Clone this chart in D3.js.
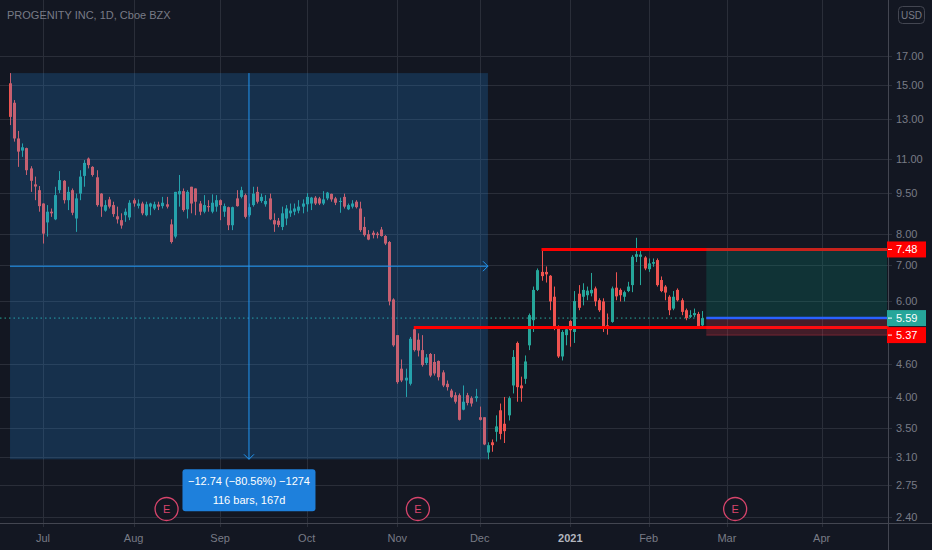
<!DOCTYPE html>
<html>
<head>
<meta charset="utf-8">
<script src="https://cdn.jsdelivr.net/npm/d3@7"></script>
<style>
  html, body { margin: 0; padding: 0; background: #131722; }
  svg { display: block; font-family: "Liberation Sans", Arial, sans-serif; }
</style>
</head>
<body>
<svg id="chart" width="932" height="550"></svg>
<script>
// ---- data ----
const title = "PROGENITY INC, 1D, Cboe BZX";
const firstDay = "2020-06-19";
const holidays = ["2020-07-03", "2020-09-07", "2020-11-26", "2020-12-25",
                  "2021-01-01", "2021-01-18", "2021-02-15", "2021-04-02"];

const opens = [15.14,13.94,11.98,11.38,11.50,10.55,9.86,9.62,9.09,8.39,
  8.78,8.50,9.62,10.01,9.22,9.62,8.53,9.48,10.22,11.00,
  10.62,10.16,9.48,8.82,9.25,9.03,8.61,8.47,8.65,8.57,
  9.22,9.00,9.09,8.65,8.97,8.90,9.05,8.99,9.06,8.32,
  7.90,9.45,9.58,8.87,9.76,9.69,9.09,8.78,8.99,8.78,
  8.97,9.22,8.78,8.95,8.29,9.29,9.35,9.42,8.65,9.03,
  9.55,9.19,9.06,9.29,8.47,8.45,8.23,8.53,8.72,8.78,
  8.82,8.97,9.06,9.09,9.32,9.29,9.09,9.29,9.47,9.29,
  9.16,9.35,8.87,8.97,9.16,8.90,8.23,7.98,8.03,8.00,
  8.14,7.92,7.72,6.05,5.20,4.51,4.29,4.23,5.33,5.10,
  4.88,4.62,4.80,4.64,4.66,4.44,4.23,4.11,4.03,4.03,
  3.79,4.03,3.98,3.98,3.67,3.67,3.16,3.30,3.45,3.78,
  3.57,3.70,4.20,5.03,4.20,4.32,4.98,5.54,6.30,6.80,
  6.80,6.69,6.12,5.34,4.75,5.20,5.52,5.27,6.20,6.12,
  6.16,6.21,6.34,6.03,6.00,5.42,5.50,6.36,6.30,6.12,
  6.27,6.43,7.25,7.25,7.23,6.88,7.04,7.15,6.57,6.39,
  6.12,5.82,6.30,6.03,5.78,5.62,5.66,5.69,5.42];

const highs = [15.81,14.10,12.37,11.73,11.52,10.65,10.19,9.79,9.10,9.03,
  8.90,9.76,10.43,10.04,9.76,9.69,9.48,10.47,10.93,11.05,
  10.65,10.47,9.50,9.22,9.35,9.16,8.97,8.72,8.90,9.22,
  9.29,9.25,9.16,9.16,9.12,9.16,9.16,9.35,9.35,8.50,
  9.55,10.26,9.69,9.62,9.76,9.69,9.19,9.42,9.22,9.45,
  9.42,9.25,9.09,8.97,8.97,9.62,9.76,9.48,9.09,9.76,
  9.76,9.48,9.42,9.48,8.72,8.55,8.97,9.03,9.09,9.09,
  9.22,9.25,9.50,9.35,9.38,9.35,9.58,9.55,9.48,9.35,
  9.32,9.48,9.09,9.22,9.22,9.16,8.59,8.12,8.10,8.06,
  8.23,7.95,7.75,6.08,5.20,4.69,4.51,5.16,5.37,5.24,
  5.20,4.80,4.82,4.80,4.67,4.48,4.29,4.14,4.08,4.06,
  4.20,4.07,4.01,4.14,3.84,3.67,3.30,3.34,3.70,3.89,
  4.00,4.01,4.88,5.06,4.36,4.77,5.70,6.39,6.90,7.48,
  6.96,6.71,6.39,5.42,5.31,5.35,5.54,6.27,6.43,6.48,
  6.39,6.77,6.39,6.08,6.08,5.70,6.39,6.79,6.34,6.28,
  6.52,7.30,7.86,7.45,7.27,7.20,7.20,7.20,6.67,6.43,
  6.16,6.27,6.34,6.08,5.82,5.78,5.82,5.74,5.76];

const lows = [12.68,11.82,10.62,11.08,10.26,9.55,9.22,8.78,7.67,7.90,
  8.59,8.47,9.50,9.09,8.84,8.65,8.06,9.22,9.76,10.55,
  10.19,8.97,8.59,8.78,8.90,8.59,8.35,8.17,8.41,8.47,
  8.97,8.90,8.65,8.61,8.65,8.84,8.84,8.90,8.90,7.67,
  7.84,8.97,8.78,8.53,8.72,8.65,8.65,8.72,8.78,8.72,
  8.78,8.47,8.59,8.12,8.12,8.97,9.29,8.53,8.59,8.97,
  9.09,9.12,8.97,8.47,8.06,8.22,8.12,8.29,8.59,8.65,
  8.72,8.72,8.78,8.84,9.03,9.03,9.03,9.22,9.16,9.03,
  8.74,8.90,8.84,8.90,8.90,8.06,7.90,7.78,7.84,7.84,
  7.90,7.62,5.90,4.95,4.23,4.26,4.00,4.20,4.85,4.75,
  4.55,4.58,4.35,4.38,4.29,4.17,4.11,3.98,3.89,3.62,
  3.78,3.86,3.84,3.92,3.62,3.26,3.07,3.17,3.31,3.34,
  3.29,3.62,4.06,3.92,3.92,4.23,4.88,5.27,6.27,6.55,
  6.50,5.78,5.31,4.72,4.67,4.98,4.95,5.03,5.78,5.90,
  6.03,6.13,5.88,5.74,5.27,5.21,5.48,6.03,6.00,6.00,
  6.24,6.24,7.09,6.43,6.85,6.80,6.95,6.39,6.24,6.03,
  5.66,5.78,6.00,5.66,5.54,5.59,5.61,5.35,5.38];

const closes = [13.13,11.98,11.33,11.54,10.47,10.01,9.77,8.99,8.00,8.78,
  8.72,9.42,10.04,9.22,9.55,8.74,9.29,10.19,10.80,10.70,
  10.26,9.03,8.97,9.03,8.97,8.69,8.50,8.28,8.78,9.12,
  9.09,9.09,8.72,9.06,9.09,9.06,8.97,9.12,8.97,7.72,
  9.55,9.58,8.84,9.55,9.09,9.16,8.78,9.03,8.95,9.12,
  9.22,9.03,8.99,8.29,8.95,8.99,9.62,8.59,8.95,9.48,
  9.16,9.35,9.19,8.50,8.32,8.30,8.72,8.90,8.82,8.90,
  8.97,9.09,9.35,9.32,9.09,9.09,9.25,9.52,9.25,9.12,
  9.19,8.97,9.03,9.09,8.95,8.12,7.95,7.80,7.95,7.95,
  7.92,7.67,6.00,4.98,4.26,4.29,4.34,5.12,4.88,4.87,
  4.58,4.73,4.38,4.42,4.35,4.20,4.17,4.00,3.92,3.63,
  3.92,3.90,3.89,4.01,3.63,3.27,3.26,3.26,3.53,3.42,
  3.46,3.98,4.74,4.17,4.15,4.65,5.66,6.30,6.85,6.68,
  6.73,6.00,5.38,4.75,5.27,5.33,5.31,6.01,5.84,6.30,
  6.28,6.30,6.00,5.78,5.38,5.35,6.34,6.13,6.16,6.24,
  6.39,7.25,7.33,7.32,6.90,7.05,7.09,6.43,6.27,6.23,
  5.78,6.12,6.03,5.74,5.59,5.66,5.71,5.38,5.59];

const priceTicks = [17, 15, 13, 11, 9.5, 8, 7, 6, 4.6, 4, 3.5, 3.1, 2.75, 2.4];
const earningsBars = [38, 99, 176];

// price range measurement (bars 0..116)
const measureBars = [0, 116];
const measurePrices = [15.81, 3.07];
const measureText = ["\u221212.74 (\u221280.56%) \u22121274", "116 bars, 167d"];

// horizontal levels: [price, first bar]
const resistance = [7.48, 129];
const support = [5.37, 98];
const lastPrice = 5.59;
// long position tool: entry, target, stop, first bar
const positionTool = { entry: 5.59, target: 7.48, stop: 5.20, bar: 169 };

// ---- layout ----
const W = 932, H = 550, plotR = 888, plotB = 523;
const up = "#26a69a", down = "#ef5350", gridC = "#2a2e39", textC = "#787b86";

const svg = d3.select("#chart");
svg.append("rect").attr("width", W).attr("height", H).attr("fill", "#131722");

const x = d3.scaleLinear().domain([-2.43, 213.1]).range([0, plotR]);
const y = d3.scaleLog().domain([2.343, 21.56]).range([plotB, 0]);

const fmtDay = d3.timeFormat("%Y-%m-%d");
const days = d3.timeDay.range(d3.timeParse("%Y-%m-%d")(firstDay), new Date(2021, 4, 1))
  .filter(d => d.getDay() % 6 !== 0 && !holidays.includes(fmtDay(d)));

const monthTicks = days.map((d, i) => ({ d, i }))
  .filter((o, k, a) => k > 0 && o.d.getMonth() !== a[k - 1].d.getMonth() && x(o.i) < plotR);

const candles = opens.map((o, i) => ({ i, o, h: highs[i], l: lows[i], c: closes[i] }));

svg.append("defs").append("clipPath").attr("id", "plot")
  .append("rect").attr("width", plotR).attr("height", plotB);

// grid
const grid = svg.append("g");
grid.selectAll(".hg").data(priceTicks).join("line")
  .attr("x1", 0).attr("x2", plotR + 4)
  .attr("y1", d => Math.round(y(d)) + 0.5).attr("y2", d => Math.round(y(d)) + 0.5)
  .attr("stroke", gridC);
grid.selectAll(".vg").data(monthTicks).join("line")
  .attr("x1", d => Math.round(x(d.i)) + 0.5).attr("x2", d => Math.round(x(d.i)) + 0.5)
  .attr("y1", 0).attr("y2", plotB + 4)
  .attr("stroke", gridC);

const plot = svg.append("g").attr("clip-path", "url(#plot)");

// last price dotted line
plot.append("line")
  .attr("x1", 0).attr("x2", plotR)
  .attr("y1", y(lastPrice)).attr("y2", y(lastPrice))
  .attr("stroke", up).attr("stroke-dasharray", "1.5,3");

// candles
const cg = plot.selectAll(".candle").data(candles).join("g")
  .attr("fill", d => d.c >= d.o ? up : down)
  .attr("stroke", d => d.c >= d.o ? up : down);
cg.append("line")
  .attr("x1", d => Math.round(x(d.i)) + 0.5).attr("x2", d => Math.round(x(d.i)) + 0.5)
  .attr("y1", d => y(d.h)).attr("y2", d => y(d.l));
cg.append("rect")
  .attr("stroke", "none")
  .attr("x", d => Math.round(x(d.i)) - 1).attr("width", 3)
  .attr("y", d => y(Math.max(d.o, d.c)))
  .attr("height", d => Math.max(1, y(Math.min(d.o, d.c)) - y(Math.max(d.o, d.c))));

// measurement box
const mx0 = x(measureBars[0]), mx1 = x(measureBars[1]);
const my0 = y(measurePrices[0]), my1 = y(measurePrices[1]);
const mcx = (mx0 + mx1) / 2, mcy = (my0 + my1) / 2;
plot.append("rect")
  .attr("x", mx0).attr("y", my0).attr("width", mx1 - mx0).attr("height", my1 - my0)
  .attr("fill", "rgba(33,150,243,0.2)");
const ml = plot.append("g").attr("stroke", "#2196f3").attr("fill", "none");
ml.append("line").attr("x1", mx0).attr("x2", mx1).attr("y1", mcy).attr("y2", mcy);
ml.append("line").attr("x1", mcx).attr("x2", mcx).attr("y1", my0).attr("y2", my1);
ml.append("path").attr("d", `M${mx1 - 5},${mcy - 5}L${mx1},${mcy}L${mx1 - 5},${mcy + 5}`);
ml.append("path").attr("d", `M${mcx - 5},${my1 - 5}L${mcx},${my1}L${mcx + 5},${my1 - 5}`);

// horizontal levels
[resistance, support].forEach(([p, b]) => {
  plot.append("line")
    .attr("x1", x(b)).attr("x2", plotR)
    .attr("y1", y(p)).attr("y2", y(p))
    .attr("stroke", "#ff0000").attr("stroke-width", 3);
});

// long position tool
const px0 = x(positionTool.bar), px1 = plotR - 1;
plot.append("rect")
  .attr("x", px0).attr("width", px1 - px0)
  .attr("y", y(positionTool.target) - 1.5)
  .attr("height", y(positionTool.entry) - y(positionTool.target) + 1.5)
  .attr("fill", "rgba(8,153,129,0.22)");
plot.append("rect")
  .attr("x", px0).attr("width", px1 - px0)
  .attr("y", y(positionTool.entry))
  .attr("height", y(positionTool.stop) - y(positionTool.entry))
  .attr("fill", "rgba(242,54,69,0.22)");
plot.append("line")
  .attr("x1", px0).attr("x2", px1)
  .attr("y1", y(positionTool.stop)).attr("y2", y(positionTool.stop))
  .attr("stroke", "rgba(242,54,69,0.35)");
plot.append("line")
  .attr("x1", px0).attr("x2", px1)
  .attr("y1", y(positionTool.entry)).attr("y2", y(positionTool.entry))
  .attr("stroke", "#2962ff").attr("stroke-width", 2.5);

// earnings markers
const eg = plot.selectAll(".earn").data(earningsBars).join("g")
  .attr("transform", d => `translate(${x(d)},509)`);
eg.append("circle").attr("r", 11.5)
  .attr("fill", "#131722").attr("stroke", "#d8456c").attr("stroke-width", 1.3);
eg.append("text").text("E")
  .attr("text-anchor", "middle").attr("dy", "0.36em")
  .attr("font-size", 11).attr("fill", "#d8456c");

// measurement label
const tip = svg.append("g").attr("transform", `translate(${mcx},${my1 + 10})`);
tip.append("rect").attr("x", -66.5).attr("width", 133).attr("height", 42).attr("rx", 3)
  .attr("fill", "#1e80dc");
tip.selectAll("text").data(measureText).join("text")
  .attr("text-anchor", "middle").attr("y", (d, i) => 16 + i * 19)
  .attr("font-size", 11).attr("fill", "#ffffff").text(d => d);

// axes borders
svg.append("line").attr("x1", plotR + 0.5).attr("x2", plotR + 0.5).attr("y1", 0).attr("y2", H)
  .attr("stroke", "#434651");
svg.append("line").attr("x1", 0).attr("x2", W).attr("y1", plotB + 0.5).attr("y2", plotB + 0.5)
  .attr("stroke", "#434651");

// price axis labels
svg.selectAll(".pt").data(priceTicks).join("text")
  .attr("x", 896).attr("y", d => y(d)).attr("dy", "0.36em")
  .attr("font-size", 11).attr("fill", textC)
  .text(d3.format(".2f"));

// colored price tags
const tagH = 16;
const y59 = y(lastPrice) - tagH / 2;
const tags = [
  { p: resistance[0], top: y(resistance[0]) - tagH / 2, fill: "#ff0000" },
  { p: lastPrice, top: y59, fill: up },
  { p: support[0], top: Math.max(y(support[0]) - tagH / 2, y59 + tagH + 1), fill: "#ff0000" }
];
const tg = svg.selectAll(".tag").data(tags).join("g");
tg.append("rect").attr("x", plotR - 1).attr("y", d => d.top)
  .attr("width", 39).attr("height", tagH).attr("fill", d => d.fill);
tg.append("line").attr("x1", plotR).attr("x2", plotR + 4)
  .attr("y1", d => d.top + tagH / 2).attr("y2", d => d.top + tagH / 2)
  .attr("stroke", "#ffffff");
tg.append("text").attr("x", 896).attr("y", d => d.top + tagH / 2).attr("dy", "0.36em")
  .attr("font-size", 11).attr("fill", "#ffffff").text(d => d3.format(".2f")(d.p));

// time axis labels
svg.selectAll(".mt").data(monthTicks).join("text")
  .attr("x", d => x(d.i)).attr("y", 542)
  .attr("text-anchor", "middle").attr("font-size", 11)
  .attr("font-weight", d => d.d.getMonth() === 0 ? "bold" : "normal")
  .attr("fill", d => d.d.getMonth() === 0 ? "#b2b5be" : textC)
  .text(d => d.d.getMonth() === 0 ? d3.timeFormat("%Y")(d.d) : d3.timeFormat("%b")(d.d));

// currency badge
svg.append("rect").attr("x", 898.5).attr("y", 6.5).attr("width", 26).attr("height", 17).attr("rx", 4)
  .attr("fill", "none").attr("stroke", "#434651");
svg.append("text").attr("x", 911.5).attr("y", 15).attr("dy", "0.36em").attr("text-anchor", "middle")
  .attr("font-size", 10).attr("fill", textC).text("USD");

// title
svg.append("text").attr("x", 7).attr("y", 19).attr("font-size", 11).attr("fill", textC).text(title);
</script>
</body>
</html>
